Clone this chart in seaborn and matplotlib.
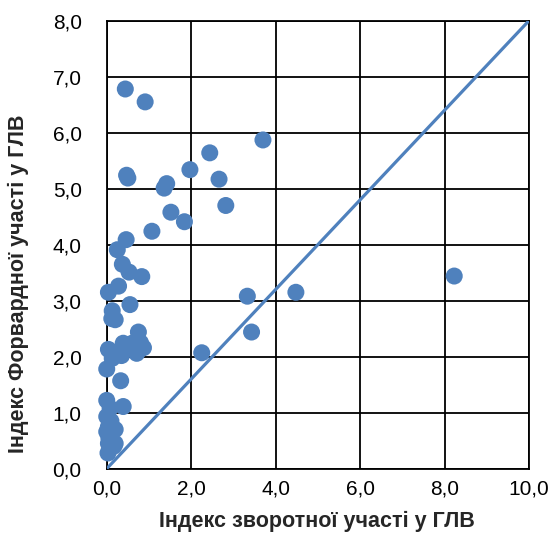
import numpy as np
import pandas as pd
import seaborn as sns
import matplotlib.pyplot as plt
from matplotlib.ticker import FuncFormatter

# backward participation index (x) and forward participation index (y)
backward = [0.44, 0.91, 3.70, 2.44, 1.97, 0.47, 0.50, 2.66, 1.42, 1.36,
            2.82, 1.52, 1.84, 1.07, 0.46, 0.25, 0.37, 0.53, 0.83, 8.23,
            0.28, 0.04, 4.48, 3.33, 0.55, 0.13, 0.12, 0.20, 0.75, 3.43,
            0.04, 0.13, 0.39, 0.35, 0.28, 0.71, 0.87, 0.63, 0.51, 0.80,
            0.74, 0.42, 2.25, 0.00, 0.33, 0.00, 0.39, 0.08, 0.00, 0.04,
            0.20, 0.00, 0.20, 0.04, 0.17, 0.03, 0.10, 0.05]
forward = [6.78, 6.55, 5.87, 5.64, 5.34, 5.24, 5.19, 5.17, 5.09, 5.01,
           4.70, 4.58, 4.41, 4.24, 4.09, 3.91, 3.65, 3.51, 3.43, 3.44,
           3.26, 3.15, 3.15, 3.08, 2.93, 2.82, 2.68, 2.66, 2.44, 2.44,
           2.13, 1.97, 2.24, 2.02, 2.05, 2.06, 2.16, 2.25, 2.21, 2.25,
           2.10, 2.18, 2.07, 1.78, 1.57, 1.22, 1.11, 1.08, 0.93, 0.75,
           0.70, 0.66, 0.45, 0.45, 0.40, 0.28, 0.85, 0.55]
diag_x = [0.0, 10.0]
diag_y = [0.0, 8.0]

df = pd.DataFrame({'backward': backward, 'forward': forward})

sns.set_style('white')
plt.rcParams['font.family'] = ['Liberation Sans', 'DejaVu Sans']

blue = '#4F81BD'
fig = plt.figure(figsize=(5.51, 5.36), dpi=100)
ax = fig.add_axes([0.1937, 0.1256, 0.7663, 0.8358])

ax.plot(diag_x, diag_y, color=blue, linewidth=2.3, zorder=3)
sns.scatterplot(data=df, x='backward', y='forward', ax=ax, color=blue,
                s=150, edgecolor='none', zorder=4, clip_on=False)

ax.set_xlim(0, 10)
ax.set_ylim(0, 8)
ax.set_xticks(np.arange(0, 10.1, 2))
ax.set_yticks(np.arange(0, 8.1, 1))
fmt = FuncFormatter(lambda v, p: f'{v:.1f}'.replace('.', ','))
ax.xaxis.set_major_formatter(fmt)
ax.yaxis.set_major_formatter(fmt)
ax.grid(True, color='black', linewidth=1.3)
ax.set_axisbelow(True)
for s in ax.spines.values():
    s.set_color('black')
    s.set_linewidth(1.3)
ax.tick_params(length=0, labelsize=15, colors='black')
ax.tick_params(axis='x', pad=8)
ax.tick_params(axis='y', pad=18)

ax.set_xlabel('Індекс зворотної участі у ГЛВ', fontsize=15.5, fontweight='bold')
ax.set_ylabel('Індекс Форвардної участі у ГЛВ', fontsize=15.5, fontweight='bold')
ax.xaxis.set_label_coords(0.499, -0.094)
ax.yaxis.set_label_coords(-0.185, 0.412)

fig.savefig('out.png', dpi=100)
